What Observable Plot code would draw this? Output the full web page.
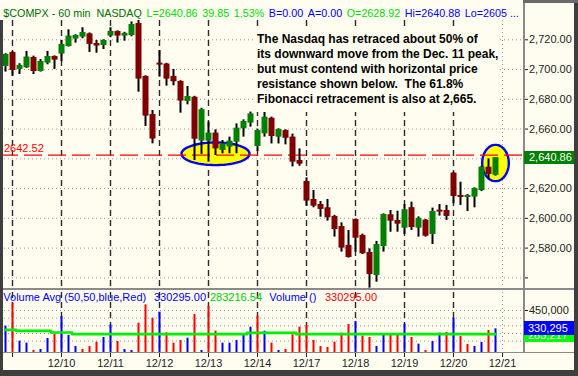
<!DOCTYPE html>
<html>
<head>
<meta charset="utf-8">
<script src="https://cdn.jsdelivr.net/npm/d3@7"></script>
<script src="https://cdn.jsdelivr.net/npm/@observablehq/plot@0.6"></script>
<style>
  html, body { margin: 0; padding: 0; background: #3e3e3e; }
  #wrap { position: relative; width: 578px; height: 376px; overflow: hidden;
          background: #fffcf0; font-family: "Liberation Sans", Arial, sans-serif; }
  .abs { position: absolute; }
  .t { position: absolute; line-height: 13px; white-space: pre; }
  .dark { position: absolute; background: #3e3e3e; }
  .sep { position: absolute; background: #8a8a8a; }
  #note { position: absolute; left: 254px; top: 28px; width: 244px; height: 84px;
          background: #fffcf0; font-weight: bold; font-size: 12px; line-height: 15px;
          white-space: pre; color: #000; padding: 4px 0 0 3px; box-sizing: border-box; }
  .box { position: absolute; left: 524px; width: 50px; color: #fff; font-size: 11px;
         white-space: pre; box-sizing: border-box; overflow: hidden; }
</style>
</head>
<body>
<div id="wrap"></div>
<script>
// ---------------- data (hourly bars, $COMPX 60 min) ----------------
const opens  = [2702.1,2711.5,2700.1,2701.2,2708.1,2698.7,2704.3,2708.8,2710.4,2715.5,
                2720.5,2721.8,2724.0,2717.5,2716.2,2722.5,2725.6,2722.5,2722.9,2731.0,
                2695.4,2669.8,2704.3,2703.7,2695.4,2692.0,2678.6,2681.4,2652.0,2651.9,
                2657.3,2645.6,2647.9,2651.2,2660.2,2664.0,2648.3,2656.8,2667.3,2654.6,
                2659.0,2654.6,2638.9,2624.8,2612.7,2609.3,2607.1,2601.3,2594.5,2581.8,
                2599.2,2588.5,2577.1,2561.6,2581.1,2602.4,2598.6,2593.4,2607.2,2593.4,
                2598.8,2589.2,2605.5,2605.3,2630.4,2615.4,2614.0,2614.3,2618.7,2634.4,
                2628.92];
const highs  = [2710.6,2712.0,2703.9,2712.2,2709.0,2706.8,2712.2,2709.2,2719.6,2726.7,
                2723.4,2728.1,2724.6,2719.6,2720.0,2728.1,2726.0,2725.0,2732.0,2733.0,
                2695.8,2672.5,2712.8,2704.2,2700.1,2692.5,2688.6,2682.0,2674.0,2664.7,
                2659.5,2652.3,2654.6,2663.5,2666.2,2671.4,2660.0,2672.5,2668.0,2660.2,
                2659.5,2656.6,2646.7,2627.2,2618.7,2611.3,2612.7,2602.0,2597.0,2591.8,
                2599.6,2589.4,2579.5,2584.5,2603.0,2605.3,2604.8,2609.3,2610.9,2601.0,
                2599.2,2606.9,2609.3,2608.7,2631.0,2624.3,2616.0,2620.5,2635.0,2640.0,
                2640.88];
const lows   = [2698.3,2695.6,2696.7,2700.8,2696.7,2698.3,2703.2,2700.1,2705.4,2715.1,
                2717.8,2720.7,2711.5,2711.0,2713.5,2721.4,2717.8,2719.1,2722.0,2684.8,
                2661.8,2650.1,2694.9,2688.9,2689.1,2670.7,2676.3,2638.9,2643.0,2637.8,
                2642.2,2643.4,2643.4,2643.4,2654.6,2661.3,2645.0,2654.6,2650.0,2650.0,
                2649.4,2634.6,2635.0,2608.2,2607.1,2600.8,2598.1,2587.4,2577.3,2573.3,
                2577.3,2575.7,2553.1,2557.1,2577.3,2590.7,2590.7,2589.2,2591.9,2587.4,
                2587.4,2582.4,2601.5,2598.6,2609.8,2608.7,2604.6,2607.1,2618.0,2626.1,
                2628.4];
const closes = [2710.2,2699.4,2702.8,2708.4,2698.7,2705.4,2708.8,2706.3,2716.9,2722.5,
                2722.9,2724.9,2716.9,2715.8,2719.6,2725.6,2722.5,2724.3,2730.3,2693.6,
                2668.7,2653.3,2703.0,2693.6,2691.8,2678.8,2681.9,2653.2,2673.0,2657.3,
                2646.7,2650.1,2651.9,2660.6,2665.1,2670.2,2659.0,2668.0,2655.0,2659.7,
                2653.8,2637.8,2636.4,2611.6,2608.2,2606.0,2600.4,2592.5,2580.0,2573.7,
                2586.7,2576.2,2562.3,2582.4,2602.6,2598.1,2596.1,2605.8,2593.8,2600.0,
                2588.0,2604.6,2604.2,2601.3,2614.7,2614.0,2615.4,2620.1,2634.4,2629.5,
                2640.86];
const volumes = [347700,497900,249800,236700,188800,195300,267200,295500,410800,286800,
                 214900,195300,214900,243200,273700,354200,247600,195300,188800,367300,
                 487000,399900,439100,304200,236700,254100,269400,423900,188800,478300,
                 315100,236700,236700,254100,297600,341200,413000,315100,236700,188800,
                 195300,291100,341200,352100,254100,214900,208400,243200,302000,358600,
                 378200,282400,273700,214900,286800,293300,297600,360800,273700,230200,
                 188800,247600,302000,306300,399900,280200,228000,214900,241000,319400,
                 330295];
const volDirs = ["B","R","B","B","R","B","B","R","B","B",
                 "B","R","R","R","B","B","R","B","B","R",
                 "R","R","B","R","R","R","B","R","B","R",
                 "R","B","B","B","B","B","R","B","R","B",
                 "R","R","R","R","R","R","R","R","R","R",
                 "B","R","R","B","B","R","R","B","R","B",
                 "R","B","B","R","B","R","R","B","B","R",
                 "B"];
const volAvg = [323800,323800,317200,317200,317200,317200,317200,306400,306400,306400,
                295500,295500,295500,295500,295500,295500,295500,295500,295500,295500,
                295500,295500,295500,295500,295500,295500,295500,295500,295500,295500,
                295500,295500,295500,295500,295500,304200,304200,304200,304200,304200,
                304200,304200,295500,295500,295500,295500,295500,295500,295500,295500,
                295500,295500,295500,295500,295500,295500,295500,295500,295500,295500,
                295500,295500,295500,295500,295500,295500,295500,295500,295500,295500,
                295500];
// first bar of each session (bar index) and its date label
const sessionStarts = [1, 8, 15, 22, 29, 36, 43, 50, 57, 64, 71];
const sessionLabels = ["", "12/10", "12/11", "12/12", "12/13", "12/14", "12/17", "12/18", "12/19", "12/20", "12/21"];
const priceTicks = [2560, 2580, 2600, 2620, 2640, 2660, 2680, 2700, 2720];
const volTicks = [250000, 300000, 350000, 400000, 450000];
const resistance = 2642.52;
const lastClose = 2640.86;
const lastVolume = 330295;
const lastVolAvg = 283216.54;
// header and volume-panel legend texts
const headerItems = [["$COMPX - 60 min  NASDAQ", "#007000"], ["L=2640.86", "#00dd00"], ["39.85", "#00dd00"],
  ["1.53%", "#00dd00"], ["B=0.00", "#0000ff"], ["A=0.00", "#0000ff"], ["O=2628.92", "#00dd00"],
  ["Hi=2640.88", "#0000ff"], ["Lo=2605 ...", "#0000ff"]];
const volLegendItems = [["Volume Avg (50,50,blue,Red)", "#0000ff"], ["330295.00", "#0000ff"],
  ["283216.54", "#00cc00"], ["Volume ()", "#0000ff"], ["330295.00", "#ff0000"]];
// highlighted zones: centre bar, centre price, half-width (bars), half-height (points)
const ringBar = [30, 70];
const ringPrice = [2643.4, 2637.2];
const ringHalfBars = [4.86, 1.9];
const ringHalfPts = [7.6, 12.2];

// ---------------- build ----------------
const FONT = '"Liberation Sans", Arial, sans-serif';
const bars = opens.map((o, i) => ({i, o, h: highs[i], l: lows[i], c: closes[i]}));
const vols = volumes.map((v, i) => ({i, v, dir: volDirs[i], avg: volAvg[i]}));
const ringPts = [];
ringBar.forEach((b, r) => {
  for (let k = 0; k < 72; k++) {
    const t = 2 * Math.PI * k / 72;
    ringPts.push({k: r, x: b + ringHalfBars[r] * Math.cos(t), y: ringPrice[r] + ringHalfPts[r] * Math.sin(t)});
  }
});
const xDomain = [-5 / 7, 74];
const lastSession = sessionStarts[sessionStarts.length - 1];
const dayLines = sessionStarts.slice(0, -1);
const dash = {stroke: "#2a2a2a", strokeWidth: 1.4, strokeDasharray: "6,4"};
const dots = {stroke: "#9a9a9a", strokeOpacity: 1, strokeDasharray: "1,3"};

const wrap = document.getElementById("wrap");

const price = Plot.plot({
  width: 578, height: 268,
  marginLeft: 0, marginRight: 55, marginTop: 0, marginBottom: 0,
  x: {domain: xDomain, axis: null},
  y: {domain: [2552.86, 2732.97], axis: null},
  style: {background: "transparent", fontFamily: FONT, fontSize: "11px", overflow: "visible"},
  marks: [
    Plot.gridY(priceTicks, dots),
    Plot.ruleX(dayLines, dash),
    Plot.ruleX([lastSession], dots),
    Plot.line(ringPts, {x: "x", y: "y", z: "k", fill: "#ffff00", stroke: "#0000ff", strokeWidth: 2.4, curve: "linear-closed"}),
    Plot.ruleY([resistance], {stroke: "#ff0000", strokeWidth: 1.3, strokeDasharray: "18,6"}),
    Plot.text([resistance], {y: d => d, frameAnchor: "left", text: d => d.toFixed(2), dx: 3.5, dy: -7,
      textAnchor: "start", fill: "#ff0000", fontSize: 11}),
    Plot.ruleX(bars, {x: "i", y1: "l", y2: "h", stroke: "#000", strokeWidth: 2}),
    Plot.ruleX(bars, {filter: d => d.c >= d.o, x: "i", y1: "o", y2: "c", stroke: "#008000", strokeWidth: 6}),
    Plot.ruleX(bars, {filter: d => d.c < d.o, x: "i", y1: "o", y2: "c", stroke: "#800000", strokeWidth: 6}),
    // 2640 is covered by the last-price box and 2560 is only a tick, as in the original
    Plot.axisY({anchor: "right", ticks: priceTicks, tickSize: 4, tickPadding: 1.5, label: null,
      tickFormat: d => (d === 2560 || d === 2640) ? "" : d3.format(",.2f")(d), color: "#1e1e1e", fontSize: 11})
  ]
});
price.style.position = "absolute"; price.style.left = "0px"; price.style.top = "20px";
wrap.appendChild(price);

const VMIN = 175761, VMAX = 567531;
const volume = Plot.plot({
  width: 578, height: 81,
  marginLeft: 0, marginRight: 55, marginTop: 3, marginBottom: 18,
  x: {domain: xDomain, axis: null},
  y: {domain: [VMIN, VMAX], axis: null},
  style: {background: "transparent", fontFamily: FONT, fontSize: "11px", overflow: "visible"},
  marks: [
    Plot.gridY(volTicks, dots),
    Plot.ruleX(dayLines, dash),
    Plot.ruleX([lastSession], dots),
    Plot.ruleX(vols, {filter: d => d.dir === "B", x: "i", y1: VMIN, y2: "v", stroke: "#0000ff", strokeWidth: 2}),
    Plot.ruleX(vols, {filter: d => d.dir === "R", x: "i", y1: VMIN, y2: "v", stroke: "#ff0000", strokeWidth: 2}),
    Plot.line(vols, {x: "i", y: "avg", stroke: "#00ee00", strokeWidth: 2.6, curve: "step"}),
    Plot.axisY({anchor: "right", ticks: [450000], tickSize: 4, tickPadding: 1.5, label: null,
      tickFormat: d3.format(","), color: "#1e1e1e", fontSize: 11}),
    Plot.axisX({anchor: "bottom", ticks: sessionStarts, tickSize: 5, tickPadding: 2, label: null,
      tickFormat: d => sessionLabels[sessionStarts.indexOf(d)] ?? "", color: "#1e1e1e", fontSize: 11})
  ]
});
volume.style.position = "absolute"; volume.style.left = "0px"; volume.style.top = "289px";
wrap.appendChild(volume);

function add(html) { wrap.insertAdjacentHTML("beforeend", html); return wrap.lastElementChild; }

// separators and frame
add('<div class="sep" style="left:523px;top:0;width:1.5px;height:353px"></div>');
add('<div class="sep" style="left:0;top:288px;width:578px;height:1.5px"></div>');
add('<div class="sep" style="left:0;top:352px;width:578px;height:1.2px"></div>');

// a row of labels laid out left to right: each starts at its preferred x, or after the previous one;
// the font shrinks if the row would pass the limit
function labelRow(items, starts, top, gap, limit) {
  let size = 11;
  for (let pass = 0; pass < 6; pass++) {
    const els = [];
    let x = starts[0];
    items.forEach(([s, c], k) => {
      x = Math.max(x, starts[k] ?? x);
      const el = add(`<div class="t" style="left:${x}px;top:${top}px;color:${c};font-size:${size}px">${s}</div>`);
      els.push(el);
      x += el.getBoundingClientRect().width + gap;
    });
    const end = x - gap;
    if (end <= limit || size <= 9) return;
    els.forEach(e => e.remove());
    size = Math.max(9, size * (limit - starts[0]) / (end - starts[0]) - 0.05);
  }
}
labelRow(headerItems, [3.3], 6.6, 4.6, 521);
labelRow(volLegendItems, [3.3, 154, 209.3, 269.3, 325], 290.6, 4, 400);

// annotation
add('<div id="note">The Nasdaq has retraced about 50% of\nits downward move from the Dec. 11 peak,\nbut must contend with horizontal price\nresistance shown below.  The 61.8%\nFibonacci retracement is also at 2,665.</div>');

// last-value boxes on the right axes
const py = price.scale("y").apply(lastClose) + 20;
add(`<div class="box" style="top:${py - 6.5}px;height:13px;line-height:13px;background:#008000;padding-left:5px">${d3.format(",.2f")(lastClose)}</div>`);
const vy = volume.scale("y").apply(lastVolume) + 289;
// the average box sits just under the volume box; only its lower part shows, as in the original
add(`<div class="box" style="top:${vy + 7}px;height:7px;background:#00ff00;padding-left:4px"><div style="position:relative;top:-7px;line-height:14px">${d3.format(",.0f")(lastVolAvg)}</div></div>`);
add(`<div class="box" style="top:${vy - 7}px;height:14px;line-height:14px;background:#0000ff;padding-left:4px">${d3.format(",")(lastVolume)}</div>`);

// dark window frame
add('<div class="dark" style="left:0;top:20px;width:3px;height:356px"></div>');
add('<div class="dark" style="left:574px;top:0;width:4px;height:376px"></div>');
add('<div class="dark" style="left:0;top:370px;width:578px;height:6px"></div>');
add('<div class="abs" style="left:523px;top:0;width:55px;height:3px;background:#6a6a6a"></div>');
</script>
</body>
</html>
